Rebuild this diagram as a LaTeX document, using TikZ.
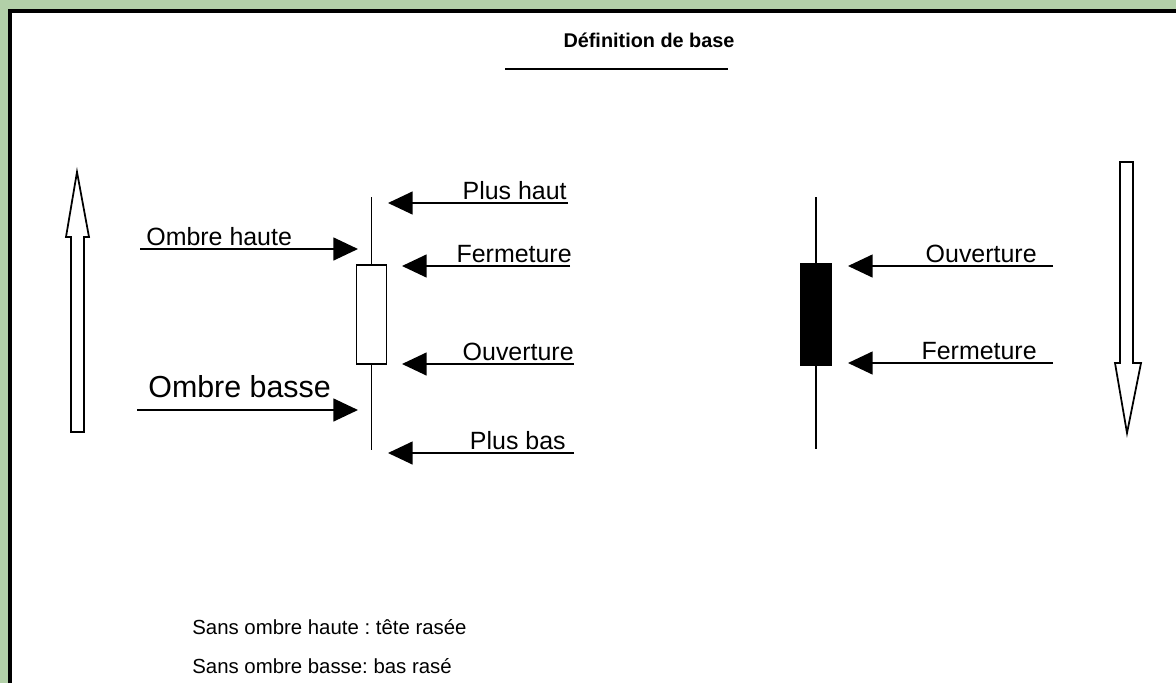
\documentclass[tikz,border=0pt]{standalone}
\usepackage{fontspec}
\setmainfont{Liberation Sans}
\usetikzlibrary{arrows.meta,positioning}
\definecolor{fondvert}{RGB}{178,208,168}
\frenchspacing
\tikzset{
	fleche/.style={line width=1pt,-{Triangle[length=14pt,width=13pt]}},
	etiq/.style={inner sep=0pt,font=\fontsize{14.2}{17}\selectfont},
	meche/.style={line width=1.1pt},
	corps/.style={draw,line width=1pt,minimum width=0.6cm,minimum height=1.98cm,inner sep=0pt},
	creuse/.style={draw,line width=1pt,fill=white},
}
\begin{document}
\begin{tikzpicture}[x=0.02cm,y=-0.02cm] %
		\useasboundingbox (0,0) rectangle (1176,683) ;
		% fond
		\fill[fondvert] (0,0) rectangle (1176,683) ;
		\fill[white] (10,11) rectangle (1176,683) ;
		\draw[line width=1.8pt] (10,683) -- (10,11) -- (1176,11) ;
		% Titre
		\node[anchor=base, inner sep=0pt, font=\bfseries\fontsize{11.3}{13}\selectfont] (Titre) at (649,47) {Définition de base} ;
		\coordinate (Sg) at (505,69) ;
		\coordinate (Sd) at (728,69) ;
		\draw[line width=1.2pt] (Sg) -- (Sd) ;
		%%%%% Bougie blanche
		\node[corps, fill=white] (CorpsB) at (371.5,314.5) {} ;
		\coordinate[above=1.34cm of CorpsB.north] (HautB) ;
		\coordinate[below=1.7cm of CorpsB.south] (BasB) ;
		\draw[meche] (HautB) -- (CorpsB.north) ;
		\draw[meche] (CorpsB.south) -- (BasB) ;
		%%%%% Bougie noire
		\node[corps, fill=black, minimum width=0.62cm, minimum height=2.02cm] (CorpsN) at (816,314.5) {} ;
		\coordinate[above=1.32cm of CorpsN.north] (HautN) ;
		\coordinate[below=1.66cm of CorpsN.south] (BasN) ;
		\draw[meche] (HautN) -- (CorpsN.north) ;
		\draw[meche] (CorpsN.south) -- (BasN) ;
		%%%%% Ombres
		\coordinate (OHa) at (140,249) ;
		\coordinate (OHb) at (358,249) ;
		\node[etiq, anchor=base west] (OH) at (146,245) {Ombre haute} ;
		\coordinate (OBa) at (137,410) ;
		\coordinate (OBb) at (358,410) ;
		\node[etiq, anchor=base west, font=\fontsize{17.3}{20}\selectfont] (OB) at (148,397) {Ombre basse} ;
		%%%%% Bougie blanche, a droite
		\coordinate (PHa) at (568,203) ;
		\coordinate (PHb) at (388,203) ;
		\node[etiq, anchor=base east] (PH) at (567,199) {Plus haut} ;
		\coordinate (FBa) at (570,266) ;
		\coordinate (FBb) at (402,266) ;
		\node[etiq, anchor=base east] (FB) at (572,262) {Fermeture} ;
		\coordinate (OuBa) at (574,364) ;
		\coordinate (OuBb) at (402,364) ;
		\node[etiq, anchor=base east] (OuB) at (574,360) {Ouverture} ;
		\coordinate (PBa) at (574,453) ;
		\coordinate (PBb) at (388,453) ;
		\node[etiq, anchor=base east] (PB) at (566,449) {Plus bas} ;
		%%%%% Bougie noire, a droite
		\coordinate (OuNa) at (1053,266) ;
		\coordinate (OuNb) at (848,266) ;
		\node[etiq, anchor=base east] (OuN) at (1037,262) {Ouverture} ;
		\coordinate (FNa) at (1053,363) ;
		\coordinate (FNb) at (848,363) ;
		\node[etiq, anchor=base east] (FN) at (1037,359) {Fermeture} ;
		% Fleches
		\draw[fleche] (OHa) -- (OHb) ;
		\draw[fleche] (OBa) -- (OBb) ;
		\draw[fleche] (PHa) -- (PHb) ;
		\draw[fleche] (FBa) -- (FBb) ;
		\draw[fleche] (OuBa) -- (OuBb) ;
		\draw[fleche] (PBa) -- (PBb) ;
		\draw[fleche] (OuNa) -- (OuNb) ;
		\draw[fleche] (FNa) -- (FNb) ;
		% Grandes fleches creuses
		\draw[creuse] (71,432) -- (71,237) -- (66,237) -- (77,172) -- (89,237) -- (84,237) -- (84,432) -- cycle ;
		\draw[creuse] (1120,162) -- (1120,363) -- (1115,363) -- (1127,433) -- (1141,363) -- (1133,363) -- (1133,162) -- cycle ;
		% Legende
		\node[anchor=base west, inner sep=0pt, font=\fontsize{11.6}{14}\selectfont] (Leg1) at (192,634) {Sans ombre haute : tête rasée} ;
		\node[anchor=base west, inner sep=0pt, font=\fontsize{11.6}{14}\selectfont] (Leg2) at (192,673) {Sans ombre basse: bas rasé} ;
	\end{tikzpicture}
\end{document}
